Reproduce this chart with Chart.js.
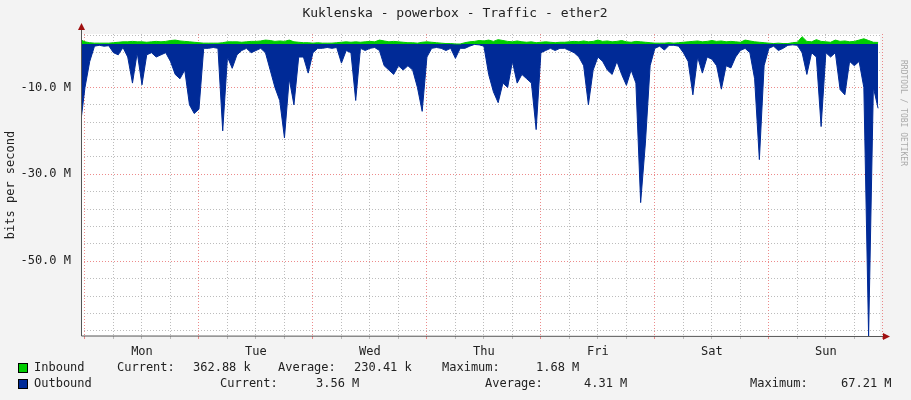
<!DOCTYPE html>
<html>
<head>
<meta charset="utf-8">
<script src="https://cdn.jsdelivr.net/npm/chart.js@4"></script>
<style>
  html, body { margin: 0; padding: 0; background: #f3f3f3; }
  #c { display: block; width: 911px; height: 400px; }
</style>
</head>
<body>
<canvas id="c" width="911" height="400"></canvas>
<script>
// hours from Mon 00:00, one sample per hour
const hours = [];
for (let h = -1; h <= 167; h++) hours.push(h);

const dayNames = ["Mon", "Tue", "Wed", "Thu", "Fri", "Sat", "Sun"];

// outbound in Mbit/s (drawn negative)
const outbound = [
  -19,
  // Mon
  -10, -4, -0.5, -0.3, -0.5, -0.4, -2, -2.5, -0.8, -3, -9, -2, -9.4, -2.5, -2, -3, -2.5, -2, -4, -7, -8, -6, -14, -16,
  // Tue
  -15, -1, -1, -0.8, -1, -20, -3, -5.6, -2.5, -1.5, -1, -2, -1.5, -1, -2, -6, -10, -13, -21.6, -8, -14, -3, -3, -6.7,
  // Wed
  -2, -1, -1, -0.8, -1, -0.8, -4.4, -1.5, -2, -13, -1, -1.5, -1, -0.8, -1.5, -5, -6, -7, -5, -6, -5, -6, -10, -15.5,
  // Thu
  -3, -1, -0.8, -1, -1.5, -1, -3.3, -1, -1, -0.5, -0.1, -0.2, -0.5, -7, -11, -13.5, -9, -10, -4, -9, -7, -8, -9, -19.7,
  // Fri
  -2, -1.5, -1, -1.5, -1, -1, -1.5, -2, -3, -5, -14, -6, -3, -4, -6, -7, -4, -7, -9.5, -6, -9, -36.5, -22.8, -5,
  // Sat
  -1, -0.5, -1.4, -0.3, -0.3, -0.5, -2, -4, -11.7, -3, -6.7, -3, -3.5, -5, -10.4, -5, -5.5, -3, -1.5, -1, -2, -8, -26.6, -5,
  // Sun
  -1, -0.5, -1.5, -1, -0.3, -0.2, -0.3, -2, -7, -2, -3, -19, -2, -3, -2, -10.5, -11.7, -4, -5, -4, -10, -67.2, -10, -14.8
];

// inbound in Mbit/s
const inbound = [
  1.0,
  0.5, 0.3, 0.2, 0.2, 0.2, 0.2, 0.3, 0.4, 0.5, 0.5, 0.6, 0.5, 0.5, 0.4, 0.5, 0.6, 0.5, 0.6, 0.8, 0.9, 0.7, 0.6, 0.5, 0.4,
  0.3, 0.2, 0.2, 0.2, 0.2, 0.3, 0.5, 0.5, 0.5, 0.4, 0.5, 0.6, 0.6, 0.7, 0.9, 0.8, 0.6, 0.7, 0.6, 0.9, 0.5, 0.4, 0.3, 0.3,
  0.2, 0.3, 0.2, 0.2, 0.2, 0.3, 0.4, 0.5, 0.4, 0.5, 0.4, 0.5, 0.6, 0.5, 0.9, 0.7, 0.5, 0.6, 0.5, 0.4, 0.3, 0.3, 0.2, 0.4,
  0.5, 0.4, 0.3, 0.2, 0.1, 0.1, 0.0, 0.0, 0.3, 0.5, 0.6, 0.8, 0.7, 0.9, 0.6, 1.0, 0.8, 0.6, 0.5, 0.7, 0.5, 0.4, 0.5, 0.3,
  0.4, 0.5, 0.4, 0.3, 0.4, 0.4, 0.5, 0.6, 0.5, 0.7, 0.5, 0.6, 0.9, 0.6, 0.7, 0.5, 0.6, 0.8, 0.5, 0.4, 0.6, 0.5, 0.4, 0.3,
  0.2, 0.2, 0.2, 0.3, 0.2, 0.3, 0.4, 0.5, 0.6, 0.7, 0.5, 0.6, 0.8, 0.6, 0.7, 0.5, 0.6, 0.5, 0.4, 0.9, 0.7, 0.5, 0.4, 0.3,
  0.2, 0.1, 0.2, 0.1, 0.1, 0.3, 0.4, 1.68, 0.6, 0.5, 1.0, 0.6, 0.5, 0.4, 0.9, 0.6, 0.7, 0.5, 0.6, 0.9, 1.2, 0.8, 0.4, 0.36
];

const yTickValues = [];
for (let v = -66; v <= 2; v += 2) yTickValues.push(v);
const xTickValues = [];
for (let h = 0; h <= 168; h += 6) xTickValues.push(h);

const legendRows = [
  { color: "#00cc00", items: [["Inbound", 34], ["Current:", 117], ["362.88 k", 193], ["Average:", 278], ["230.41 k", 354], ["Maximum:", 442], ["1.68 M", 536]] },
  { color: "#002a97", items: [["Outbound", 34], ["Current:", 220], ["3.56 M", 316], ["Average:", 485], ["4.31 M", 584], ["Maximum:", 750], ["67.21 M", 841]] }
];

const MONO = "'DejaVu Sans Mono', monospace";

const decor = {
  id: "decor",
  beforeDraw(chart) {
    const { ctx, chartArea: a } = chart;
    ctx.save();
    ctx.fillStyle = "#f3f3f3";
    ctx.fillRect(0, 0, chart.width, chart.height);
    ctx.fillStyle = "#ffffff";
    ctx.fillRect(a.left, a.top, a.right - a.left, a.bottom - a.top);
    ctx.restore();
  },
  afterDraw(chart) {
    const { ctx, chartArea: a } = chart;
    ctx.save();
    // axes
    ctx.strokeStyle = "#555";
    ctx.lineWidth = 1;
    ctx.beginPath();
    ctx.moveTo(a.left + 0.5, a.top - 6);
    ctx.lineTo(a.left + 0.5, a.bottom);
    ctx.lineTo(a.right + 4, a.bottom + 0.5);
    ctx.stroke();
    ctx.fillStyle = "#a01010";
    ctx.beginPath();
    ctx.moveTo(a.left - 3, a.top - 4); ctx.lineTo(a.left + 4, a.top - 4); ctx.lineTo(a.left + 0.5, a.top - 11);
    ctx.fill();
    ctx.beginPath();
    ctx.moveTo(a.right + 3, a.bottom - 3); ctx.lineTo(a.right + 3, a.bottom + 4); ctx.lineTo(a.right + 10, a.bottom + 0.5);
    ctx.fill();
    // title
    ctx.fillStyle = "#222";
    ctx.font = "13px " + MONO;
    ctx.textAlign = "center";
    ctx.textBaseline = "middle";
    ctx.fillText("Kuklenska - powerbox - Traffic - ether2", 455, 14);
    // y title
    ctx.save();
    ctx.translate(11, 185);
    ctx.rotate(-Math.PI / 2);
    ctx.font = "12px " + MONO;
    ctx.fillText("bits per second", 0, 0);
    ctx.restore();
    // watermark
    ctx.save();
    ctx.translate(903, 60);
    ctx.rotate(Math.PI / 2);
    ctx.fillStyle = "#aaa";
    ctx.font = "8px " + MONO;
    ctx.textAlign = "left";
    ctx.fillText("RRDTOOL / TOBI OETIKER", 0, 0);
    ctx.restore();
    // legend
    ctx.font = "12px " + MONO;
    ctx.textAlign = "left";
    legendRows.forEach((row, i) => {
      const y = 368 + i * 16;
      ctx.fillStyle = row.color;
      ctx.fillRect(18, y - 5, 10, 10);
      ctx.strokeStyle = "#000";
      ctx.strokeRect(18.5, y - 4.5, 9, 9);
      ctx.fillStyle = "#222";
      row.items.forEach(([t, x]) => ctx.fillText(t, x, y));
    });
    ctx.restore();
  }
};

new Chart(document.getElementById("c"), {
  type: "line",
  data: {
    labels: hours,
    datasets: [
      { label: "Inbound", data: hours.map((h, i) => ({ x: h, y: inbound[i] })), borderColor: "#00cc00", backgroundColor: "#00cc00", borderWidth: 1, fill: "origin", pointRadius: 0, tension: 0 },
      { label: "Outbound", data: hours.map((h, i) => ({ x: h, y: outbound[i] })), borderColor: "#002a97", backgroundColor: "#002a97", borderWidth: 1, fill: "origin", pointRadius: 0, tension: 0 }
    ]
  },
  plugins: [decor],
  options: {
    responsive: false,
    maintainAspectRatio: false,
    animation: false,
    devicePixelRatio: 1,
    layout: { padding: { top: 34, right: 31, left: 0, bottom: 0 } },
    plugins: { legend: { display: false }, tooltip: { enabled: false } },
    scales: {
      x: {
        type: "linear", min: -0.84, max: 167.4,
        afterBuildTicks: s => { s.ticks = xTickValues.map(v => ({ value: v })); },
        afterFit: s => { s.height = 64; },
        grid: {
          color: c => (c.tick && c.tick.value % 24 === 0) ? "rgba(230,90,90,0.7)" : "rgba(160,160,160,0.7)",
          tickLength: 3, drawTicks: true
        },
        border: { display: false, dash: [1, 2] },
        ticks: {
          autoSkip: false, maxRotation: 0, color: "#222", padding: 6,
          font: { family: MONO, size: 12 },
          callback: v => (v % 24 === 12 ? dayNames[Math.floor(v / 24)] : "")
        }
      },
      y: {
        min: -67.2, max: 2.3,
        afterBuildTicks: s => { s.ticks = yTickValues.map(v => ({ value: v })); },
        afterFit: s => { s.width = 81; },
        grid: {
          color: c => (c.tick && c.tick.value % 10 === 0 && c.tick.value !== 0) ? "rgba(230,90,90,0.7)" : "rgba(160,160,160,0.7)",
          drawTicks: false
        },
        border: { display: false, dash: [1, 2] },
        ticks: {
          color: "#222", padding: 10,
          font: { family: MONO, size: 12 },
          callback: v => (v % 10 === 0 ? (v === 0 ? "0.0" : v.toFixed(1) + " M") : "")
        }
      }
    }
  }
});
</script>
</body>
</html>
